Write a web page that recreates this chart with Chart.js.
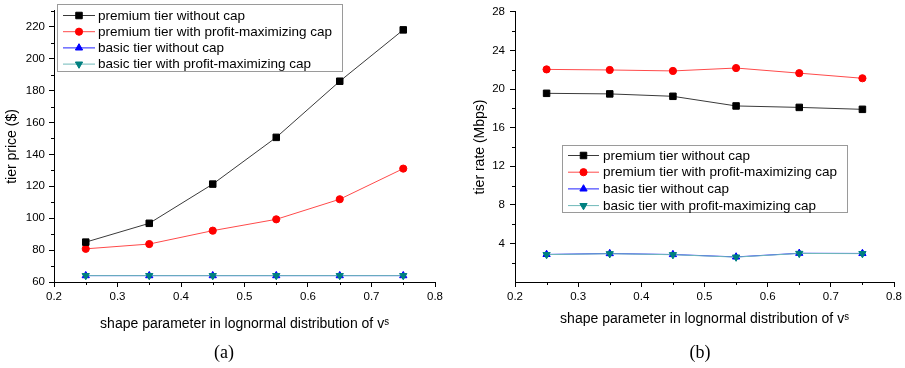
<!DOCTYPE html>
<html><head><meta charset="utf-8">
<script src="https://cdn.jsdelivr.net/npm/chart.js@4/dist/chart.umd.min.js"></script>
<style>
html,body{margin:0;padding:0;background:#fff;}
#wrap{position:relative;width:905px;height:368px;overflow:hidden;}
.c{position:absolute;top:0;width:450px;height:368px;}
.cap{position:absolute;top:342px;width:100px;line-height:20px;text-align:center;font:18px "Liberation Serif","Times New Roman",serif;color:#000;}
</style></head><body>
<div id="wrap">
<div class="c" style="left:0"><canvas id="a" width="450" height="368"></canvas></div>
<div class="c" style="left:455px"><canvas id="b" width="450" height="368"></canvas></div>
<div class="cap" style="left:174px">(a)</div>
<div class="cap" style="left:650px">(b)</div>
</div>
<script>
// ---- data ----
const shapeParams = [0.25, 0.35, 0.45, 0.55, 0.65, 0.75];
const seriesLabels = [
  'premium tier without cap',
  'premium tier with profit-maximizing cap',
  'basic tier without cap',
  'basic tier with profit-maximizing cap'
];
const pricePremiumNoCap = [85, 96.8, 121.4, 150.7, 185.9, 218.1];
const pricePremiumCap   = [80.8, 83.8, 92.2, 99.3, 111.9, 131.1];
const priceBasicNoCap   = [64, 64, 64, 64, 64, 64];
const priceBasicCap     = [64, 64, 64, 64, 64, 64];
const ratePremiumNoCap  = [19.56, 19.5, 19.25, 18.25, 18.1, 17.9];
const ratePremiumCap    = [22.04, 21.98, 21.88, 22.18, 21.65, 21.12];
const rateBasicNoCap    = [2.86, 2.95, 2.85, 2.6, 2.98, 2.96];
const rateBasicCap      = [2.84, 2.93, 2.83, 2.58, 2.96, 2.94];
const xTicks      = [0.2, 0.3, 0.4, 0.5, 0.6, 0.7, 0.8];
const xMinor      = [0.25, 0.35, 0.45, 0.55, 0.65, 0.75];
const priceTicks  = [60, 80, 100, 120, 140, 160, 180, 200, 220];
const priceMinor  = [70, 90, 110, 130, 150, 170, 190, 210, 230];
const rateTicks   = [4, 8, 12, 16, 20, 24, 28];
const rateMinor   = [2, 6, 10, 14, 18, 22, 26];
const xTitle = 'shape parameter in lognormal distribution of v\u02E2';

// ---- styles ----
const styles = [
  {line:'#3a3a3a', pt:'#000000', style:'rect', r:4.6, rot:0},
  {line:'#ff4a4a', pt:'#ff0000', style:'circle', r:3.6, rot:0},
  {line:'#2020ff', pt:'#0000ff', style:'triangle', r:4.2, rot:0},
  {line:'#6fb9b9', pt:'#008080', style:'triangle', r:4.2, rot:180}
];
const FONT = '"Liberation Sans", Arial, sans-serif';

function makeDatasets(arrs){
  return arrs.map((arr, i) => ({
    label: seriesLabels[i],
    data: shapeParams.map((x, j) => ({x: x, y: arr[j]})),
    borderColor: styles[i].line,
    borderWidth: 1,
    pointStyle: styles[i].style,
    pointRotation: styles[i].rot,
    pointRadius: styles[i].r,
    pointHoverRadius: styles[i].r,
    pointBackgroundColor: styles[i].pt,
    pointBorderColor: styles[i].pt,
    pointBorderWidth: 1,
    tension: 0,
    order: i === 3 ? 0 : 1
  }));
}

const minorTicks = {
  id: 'minorTicks',
  afterDraw(chart, args, o){
    const ctx = chart.ctx;
    ctx.save();
    ctx.strokeStyle = '#000';
    ctx.lineWidth = 1;
    (o.lists || []).forEach(l => {
      const s = chart.scales[l.axis];
      l.values.forEach(v => {
        const p = Math.round(s.getPixelForValue(v)) + 0.5;
        ctx.beginPath();
        if (s.isHorizontal()) { ctx.moveTo(p, s.top); ctx.lineTo(p, s.top + l.len); }
        else { ctx.moveTo(s.right, p); ctx.lineTo(s.right - l.len, p); }
        ctx.stroke();
      });
    });
    ctx.restore();
  }
};

function drawMarker(ctx, style, rot, r, x, y){
  if (Chart.helpers && Chart.helpers.drawPoint) {
    Chart.helpers.drawPoint(ctx, {pointStyle: style, rotation: rot, radius: r, borderWidth: 1}, x, y);
  }
}

const boxLegend = {
  id: 'boxLegend',
  afterDraw(chart, args, o){
    const ctx = chart.ctx;
    ctx.save();
    ctx.strokeStyle = '#9a9a9a';
    ctx.lineWidth = 1;
    ctx.strokeRect(o.x + 0.5, o.y + 0.5, o.w, o.h);
    chart.data.datasets.forEach((ds, i) => {
      const y = o.row0 + i * o.gap;
      ctx.strokeStyle = ds.borderColor;
      ctx.lineWidth = 1;
      ctx.beginPath(); ctx.moveTo(o.l0, y + 0.5); ctx.lineTo(o.l1, y + 0.5); ctx.stroke();
      ctx.fillStyle = ds.pointBackgroundColor;
      ctx.strokeStyle = ds.pointBorderColor;
      drawMarker(ctx, ds.pointStyle, ds.pointRotation, ds.pointRadius, (o.l0 + o.l1) / 2, y + 0.5);
      ctx.font = '13.5px ' + FONT;
      ctx.textBaseline = 'middle';
      ctx.textAlign = 'left';
      ctx.fillStyle = '#000';
      ctx.fillText(ds.label, o.tx, y + 1);
    });
    ctx.restore();
  }
};

function makeChart(id, arrs, cfg){
  return new Chart(document.getElementById(id), {
    type: 'line',
    data: { datasets: makeDatasets(arrs) },
    plugins: [minorTicks, boxLegend],
    options: {
      responsive: false,
      animation: false,
      events: [],
      layout: { padding: { top: cfg.top, right: cfg.right, bottom: 30, left: 0 } },
      plugins: {
        legend: { display: false },
        tooltip: { enabled: false },
        minorTicks: { lists: [
          {axis: 'x', values: xMinor, len: 3},
          {axis: 'y', values: cfg.minor, len: 3}
        ]},
        boxLegend: cfg.legend
      },
      scales: {
        x: {
          type: 'linear', min: 0.2, max: 0.8,
          afterBuildTicks: s => { s.ticks = xTicks.map(v => ({value: v})); },
          afterFit: s => { s.height = 56; },
          ticks: { color: '#000', font: { size: 11.5, family: FONT }, padding: 3, maxRotation: 0,
                   callback: v => v.toFixed(1) },
          grid: { drawOnChartArea: false, drawTicks: true, tickLength: 5, color: '#000' },
          border: { display: true, color: '#000', width: 1 },
          title: { display: true, text: xTitle, color: '#000',
                   font: { size: 14, family: FONT }, padding: { top: 0, bottom: cfg.xtPad } }
        },
        y: {
          type: 'linear', min: cfg.ymin, max: cfg.ymax,
          afterBuildTicks: s => { s.ticks = cfg.ticks.map(v => ({value: v})); },
          afterFit: s => { s.width = cfg.yw; },
          ticks: { color: '#000', font: { size: 11.5, family: FONT }, padding: cfg.ypad },
          grid: { drawOnChartArea: false, drawTicks: true, tickLength: 5, color: '#000' },
          border: { display: true, color: '#000', width: 1 },
          title: { display: true, text: cfg.ytitle, color: '#000',
                   font: { size: 14, family: FONT }, padding: { top: cfg.ytPad, bottom: 0 } }
        }
      }
    }
  });
}

makeChart('a', [pricePremiumNoCap, pricePremiumCap, priceBasicNoCap, priceBasicCap], {
  top: 8, right: 15, ymin: 60, ymax: 230, ticks: priceTicks, minor: priceMinor,
  yw: 54, ypad: 4, ytPad: 4, xtPad: 5.5, ytitle: 'tier price ($)',
  legend: { x: 57, y: 4, w: 285, h: 67, row0: 15, gap: 16.2, l0: 63, l1: 95, tx: 98 }
});
makeChart('b', [ratePremiumNoCap, ratePremiumCap, rateBasicNoCap, rateBasicCap], {
  top: 7.5, right: 8, ymin: 0, ymax: 28, ticks: rateTicks, minor: rateMinor,
  yw: 60, ypad: 5, ytPad: 16.5, xtPad: 10.5, ytitle: 'tier rate (Mbps)',
  legend: { x: 107, y: 145, w: 285, h: 67, row0: 155, gap: 16.7, l0: 113, l1: 144, tx: 148 }
});
</script>
</body></html>
